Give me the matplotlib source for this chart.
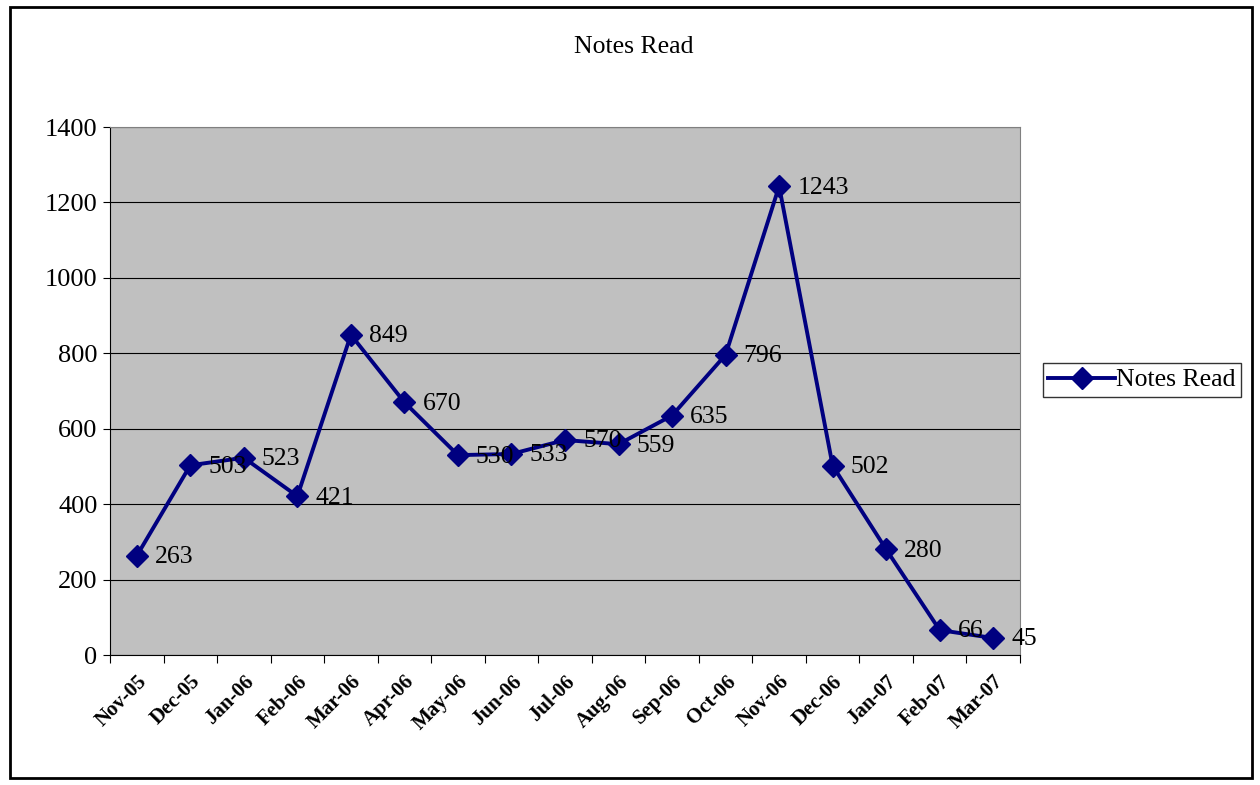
import matplotlib
matplotlib.use("Agg")
import matplotlib.pyplot as plt
from matplotlib.patches import Rectangle
import numpy as np

months = ["Nov-05", "Dec-05", "Jan-06", "Feb-06", "Mar-06", "Apr-06", "May-06",
          "Jun-06", "Jul-06", "Aug-06", "Sep-06", "Oct-06", "Nov-06", "Dec-06",
          "Jan-07", "Feb-07", "Mar-07"]
notes_read = [263, 503, 523, 421, 849, 670, 530, 533, 570, 559, 635, 796,
              1243, 502, 280, 66, 45]

plt.rcParams["font.family"] = ["Liberation Serif", "DejaVu Serif"]

fig = plt.figure(figsize=(12.6, 7.85), dpi=100)
ax = fig.add_axes([110 / 1260, 1 - 655 / 785, 910 / 1260, 528 / 785])
ax.set_facecolor("#C0C0C0")

x = np.arange(len(months))
ax.plot(x, notes_read, color="#000080", lw=2.8, marker="D", ms=11,
        mfc="#000080", mec="#000080", label="Notes Read", zorder=3)

for xi, v in zip(x, notes_read):
    ax.annotate(str(v), (xi, v), xytext=(13, -1), textcoords="offset points",
                ha="left", va="center", fontsize=18.5, color="black", zorder=4)

ax.set_xlim(-0.5, len(months) - 0.5)
ax.set_ylim(0, 1400)
ax.set_yticks(np.arange(0, 1401, 200))
ax.yaxis.grid(True, color="black", lw=0.8)
ax.set_axisbelow(True)
ax.tick_params(axis="y", labelsize=19, length=5, direction="out",
               color="black", pad=4)

# category ticks on the boundaries, labels at the centres
ax.set_xticks(np.arange(-0.5, len(months), 1.0))
ax.set_xticklabels([])
ax.set_xticks(x, minor=True)
ax.set_xticklabels(months, minor=True, rotation=45, ha="right",
                   rotation_mode="anchor", fontsize=15, fontweight="bold")
ax.tick_params(axis="x", which="major", length=6, color="black")
ax.tick_params(axis="x", which="minor", length=0, pad=12)

for side in ["top", "right"]:
    ax.spines[side].set_color("#808080")
for side in ["left", "bottom"]:
    ax.spines[side].set_color("black")

fig.text(634 / 1260, 1 - 47 / 785, "Notes Read", ha="center", va="center",
         fontsize=18.5)

leg = fig.legend(loc="center left", bbox_to_anchor=(1043 / 1260, 1 - 380 / 785),
                 fontsize=18.5, frameon=True, fancybox=False, edgecolor="black",
                 handlelength=2.6, borderpad=0.2, handletextpad=0.05,
                 borderaxespad=0)
leg.get_frame().set_linewidth(1.0)

fig.patches.append(Rectangle((10 / 1260, 7 / 785), 1242 / 1260, 771 / 785,
                             transform=fig.transFigure, fill=False,
                             edgecolor="black", lw=2))

fig.savefig("out.png", dpi=100)
